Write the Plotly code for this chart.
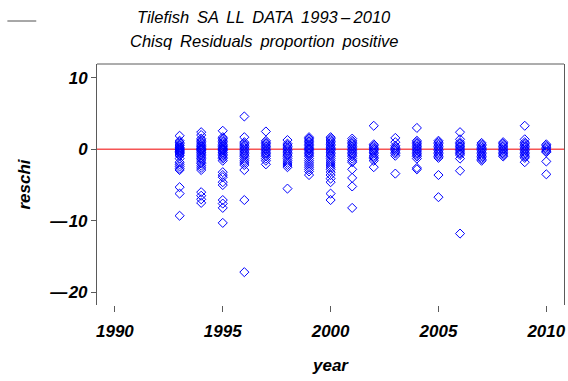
import plotly.graph_objects as go

years = [1993, 1994, 1995, 1996, 1997, 1998, 1999, 2000, 2001, 2002,
         2003, 2004, 2005, 2006, 2007, 2008, 2009, 2010]

y1993 = [1.9, 1.2, 1.0, 0.8, 0.6, 0.5, 0.3, 0.2, 0.1, 0.0, -0.1, -0.2, -0.3, -0.4, -0.5, -0.6, -0.8, -0.9, -1.3, -1.8, -2.1, -2.4, -2.7, -2.9, -5.3, -6.2, -9.3]
y1994 = [2.4, 2.0, 1.5, 1.3, 1.1, 0.9, 0.7, 0.5, 0.4, 0.2, 0.1, 0.0, -0.1, -0.2, -0.4, -0.5, -0.7, -0.9, -1.1, -1.3, -1.5, -1.8, -2.0, -2.3, -2.6, -2.9, -6.0, -6.5, -7.0, -7.5]
y1995 = [2.6, 1.7, 1.5, 1.3, 1.1, 0.9, 0.7, 0.5, 0.4, 0.2, 0.1, 0.0, -0.1, -0.2, -0.4, -0.5, -0.7, -0.9, -1.1, -1.3, -1.6, -3.2, -3.6, -3.9, -4.6, -5.0, -7.1, -7.6, -8.2, -10.3]
y1996 = [4.6, 1.7, 1.0, 0.8, 0.6, 0.4, 0.2, 0.0, -0.2, -0.4, -0.6, -0.8, -1.0, -1.3, -1.6, -1.9, -2.2, -2.9, -7.1, -17.2]
y1997 = [2.5, 1.2, 1.0, 0.8, 0.6, 0.4, 0.2, 0.0, -0.2, -0.4, -0.6, -0.8, -1.0, -1.3, -1.6, -2.1]
y1998 = [1.3, 0.8, 0.6, 0.4, 0.2, 0.0, -0.2, -0.4, -0.6, -0.8, -1.0, -1.3, -1.6, -1.9, -2.2, -2.5, -5.5]
y1999 = [1.7, 1.5, 1.3, 1.1, 0.9, 0.7, 0.5, 0.3, 0.1, 0.0, -0.2, -0.4, -0.6, -0.8, -1.0, -1.3, -1.6, -1.9, -2.2, -2.5, -2.8, -3.1, -3.6]
y2000 = [1.7, 1.5, 1.3, 1.1, 0.9, 0.7, 0.5, 0.3, 0.1, 0.0, -0.2, -0.4, -0.6, -0.8, -1.0, -1.3, -1.6, -1.9, -2.2, -2.5, -2.8, -3.2, -3.6, -4.1, -4.6, -6.2, -7.1]
y2001 = [1.5, 1.2, 1.0, 0.8, 0.6, 0.4, 0.2, 0.0, -0.2, -0.4, -0.6, -0.8, -1.0, -1.3, -1.6, -1.8, -2.8, -4.0, -5.2, -8.2]
y2002 = [3.3, 0.7, 0.5, 0.3, 0.1, 0.0, -0.2, -0.4, -0.6, -0.9, -1.1, -1.3, -1.6, -2.5]
y2003 = [1.6, 1.0, 0.5, 0.3, 0.1, 0.0, -0.2, -0.4, -0.6, -0.9, -3.4]
y2004 = [3.0, 1.2, 1.0, 0.8, 0.6, 0.4, 0.2, 0.0, -0.2, -0.4, -0.6, -0.8, -1.0, -1.3, -2.6, -2.8]
y2005 = [1.2, 1.0, 0.8, 0.6, 0.4, 0.2, 0.0, -0.2, -0.4, -0.6, -0.8, -1.0, -1.2, -3.6, -6.7]
y2006 = [2.4, 1.4, 1.0, 0.8, 0.6, 0.4, 0.2, 0.0, -0.2, -0.4, -0.6, -0.8, -1.3, -3.0, -11.8]
y2007 = [0.9, 0.7, 0.5, 0.3, 0.1, 0.0, -0.2, -0.4, -0.6, -0.8, -1.0, -1.2, -1.4, -1.6]
y2008 = [1.0, 0.8, 0.6, 0.4, 0.2, 0.0, -0.2, -0.4, -0.6, -0.8, -1.0]
y2009 = [3.3, 1.4, 1.0, 0.8, 0.6, 0.4, 0.2, 0.0, -0.2, -0.4, -0.6, -0.8, -1.0, -1.2, -1.8]
y2010 = [0.7, 0.5, 0.3, 0.1, -0.1, -0.3, -0.4, -1.7, -3.5]

reschi_by_year = [y1993, y1994, y1995, y1996, y1997, y1998, y1999, y2000, y2001,
                  y2002, y2003, y2004, y2005, y2006, y2007, y2008, y2009, y2010]

x_ticks = [1990, 1995, 2000, 2005, 2010]
y_ticks = [-20, -10, 0, 10]
y_ticktext = ["\u2014\u200a20", "\u2014\u200a10", "0", "10"]

title_line1 = "Tilefish \u2009SA \u2009LL \u2009DATA \u20091993\u2009\u2013\u20092010"
title_line2 = "Chisq \u2009Residuals \u2009proportion \u2009positive"

xs, ys = [], []
for yr, vals in zip(years, reschi_by_year):
    xs.extend([yr] * len(vals))
    ys.extend(vals)

FONT = "Liberation Sans"
W, H = 568, 381
L, R, T, B = 97, 2, 64, 76
PW, PH = W - L - R, H - T - B


def px_x(px):
    return (px - L) / PW


def px_y(py):
    return (H - B - py) / PH


fig = go.Figure()
fig.add_trace(go.Scatter(
    x=xs, y=ys, mode="markers",
    marker=dict(symbol="diamond-open", size=7, color="rgb(0,0,255)",
                line=dict(width=1, color="rgb(0,0,255)")),
    showlegend=False, hoverinfo="x+y",
))

fig.add_shape(type="line", xref="paper", yref="y", x0=0, x1=1, y0=0, y1=0,
              line=dict(color="rgb(245,85,85)", width=1.5), layer="below")
# top frame line
fig.add_shape(type="line", xref="paper", yref="paper", x0=0, x1=1, y0=1, y1=1,
              line=dict(color="rgb(90,90,90)", width=1))
# small legend-like line top-left
fig.add_shape(type="line", xref="paper", yref="paper", x0=px_x(7), x1=px_x(36),
              y0=px_y(21), y1=px_y(21), line=dict(color="rgb(80,80,80)", width=1))

title_font = dict(family=FONT, size=16.5, style="italic", color="black")
fig.add_annotation(text=title_line1, xref="paper", yref="paper",
                   x=px_x(265), y=px_y(17), xanchor="center", yanchor="middle",
                   showarrow=False, font=title_font)
fig.add_annotation(text=title_line2, xref="paper", yref="paper",
                   x=px_x(265), y=px_y(41), xanchor="center", yanchor="middle",
                   showarrow=False, font=title_font)

fig.update_layout(
    width=W, height=H,
    margin=dict(l=L, r=R, t=T, b=B),
    paper_bgcolor="white", plot_bgcolor="white",
    font=dict(family=FONT, color="black", size=16),
    xaxis=dict(
        range=[1989.17, 2010.82], tickvals=x_ticks, ticktext=[str(v) for v in x_ticks],
        showgrid=False, zeroline=False, showline=False,
        ticks="outside", ticklen=6, tickcolor="rgb(90,90,90)", tickwidth=1,
        ticklabelstandoff=5,
        tickfont=dict(family=FONT, size=17, style="italic", color="black", weight="bold"),
        title=dict(text="year", font=dict(family=FONT, size=17, style="italic", weight="bold"),
                   standoff=18),
    ),
    yaxis=dict(
        range=[-21.8, 11.95], tickvals=y_ticks, ticktext=y_ticktext,
        showgrid=False, zeroline=False, showline=True, mirror=True,
        linecolor="rgb(90,90,90)", linewidth=1,
        ticks="outside", ticklen=5, tickcolor="rgb(90,90,90)", tickwidth=1,
        tickfont=dict(family=FONT, size=17, style="italic", color="black", weight="bold"),
        title=dict(text="reschi", font=dict(family=FONT, size=17, style="italic", weight="bold"),
                   standoff=14),
    ),
)

fig.write_html("out.html")
